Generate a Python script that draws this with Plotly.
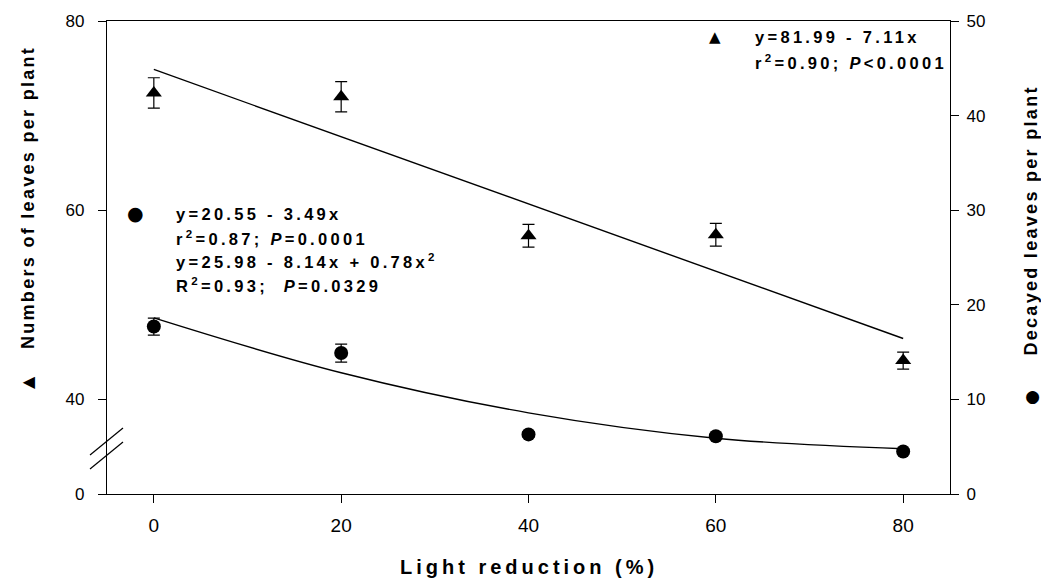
import plotly.graph_objects as go

# ---------------- data ----------------
light = [0, 20, 40, 60, 80]                      # Light reduction (%)
leaves_mean = [72.4, 72.0, 57.3, 57.4, 44.1]     # Numbers of leaves per plant (left axis)
leaves_err = [1.6, 1.6, 1.2, 1.2, 0.9]
decayed_mean = [17.7, 14.9, 6.3, 6.1, 4.5]       # Decayed leaves per plant (right axis)
decayed_err = [0.9, 0.95, 0.3, 0.3, 0.3]

leaves_fit_x = [0, 80]
leaves_fit = [74.88, 46.44]                      # linear fit line ends
decayed_fit = [18.62, 12.82, 8.58, 5.90, 4.78]   # quadratic fit at each level

left_tickvals = [30, 40, 60, 80]                 # broken axis: bottom tick shown as 0
left_ticktext = ["0", "40", "60", "80"]
right_ticks = [0, 10, 20, 30, 40, 50]
x_ticks = [0, 20, 40, 60, 80]

eq_tri = ["y=81.99 - 7.11x", "r<sup>2</sup>=0.90; <i>P</i>&lt;0.0001"]
eq_circ = ["y=20.55 - 3.49x", "r<sup>2</sup>=0.87; <i>P</i>=0.0001",
           "y=25.98 - 8.14x + 0.78x<sup>2</sup>", "R<sup>2</sup>=0.93;  <i>P</i>=0.0329"]

# ---------------- figure ----------------
W, H = 1041, 581
L, R, T, B = 107, 91, 21, 87
PW, PH = W - L - R, H - T - B


def px(xp):
    return (xp - L) / PW


def py(yp):
    return (H - B - yp) / PH


BLACK = "black"
fig = go.Figure()

fig.add_trace(go.Scatter(x=leaves_fit_x, y=leaves_fit, mode="lines",
                         line=dict(color=BLACK, width=1.4), yaxis="y", showlegend=False))
fig.add_trace(go.Scatter(x=light, y=decayed_fit, mode="lines",
                         line=dict(color=BLACK, width=1.4, shape="spline"),
                         yaxis="y2", showlegend=False))
fig.add_trace(go.Scatter(x=light, y=leaves_mean, mode="markers", yaxis="y",
                         marker=dict(symbol="triangle-up", size=14, color=BLACK),
                         error_y=dict(type="data", array=leaves_err, color=BLACK,
                                      thickness=1.2, width=6),
                         showlegend=False))
fig.add_trace(go.Scatter(x=light, y=decayed_mean, mode="markers", yaxis="y2",
                         marker=dict(symbol="circle", size=14, color=BLACK),
                         error_y=dict(type="data", array=decayed_err, color=BLACK,
                                      thickness=1.2, width=6),
                         showlegend=False))

tickfont = dict(family="Liberation Sans, Arial, sans-serif", size=17, color=BLACK)
fig.update_layout(
    width=W, height=H,
    margin=dict(l=L, r=R, t=T, b=B, pad=0),
    paper_bgcolor="white", plot_bgcolor="white",
    showlegend=False,
    xaxis=dict(range=[-5, 85], tickvals=x_ticks, ticks="outside", ticklen=8,
               tickwidth=1.2, tickcolor=BLACK, showline=True, linecolor=BLACK,
               linewidth=1.3, mirror=True, showgrid=False, zeroline=False,
               ticklabelstandoff=6,
               tickfont=dict(family="Liberation Sans Narrow, Arial Narrow, Liberation Sans",
                             size=19, color=BLACK)),
    yaxis=dict(range=[30, 80], tickvals=left_tickvals, ticktext=left_ticktext,
               ticks="outside", ticklen=8, tickwidth=1.2, tickcolor=BLACK,
               showline=True, linecolor=BLACK, linewidth=1.3, showgrid=False,
               zeroline=False, tickfont=tickfont, ticklabelstandoff=10),
    yaxis2=dict(range=[0, 50], tickvals=right_ticks, overlaying="y", side="right",
                ticks="outside", ticklen=8, tickwidth=1.2, tickcolor=BLACK,
                showline=True, linecolor=BLACK, linewidth=1.3, showgrid=False,
                zeroline=False, tickfont=tickfont, ticklabelstandoff=4),
)

bold = dict(family="Liberation Sans, Arial, sans-serif", color=BLACK, weight="bold")
ann = []
# 0 left title
ann.append(dict(text="Numbers of leaves per plant", x=px(28), y=py(198), textangle=-90,
                font=dict(bold, size=18), xanchor="center", yanchor="middle"))
# 1 left symbol
ann.append(dict(text="▲", x=px(27), y=py(383), textangle=-90,
                font=dict(family="DejaVu Sans", size=16, color=BLACK),
                xanchor="center", yanchor="middle"))
# 2 right title
ann.append(dict(text="Decayed leaves per plant", x=px(1031), y=py(221), textangle=-90,
                font=dict(bold, size=18), xanchor="center", yanchor="middle"))
# 3 right symbol
ann.append(dict(text="●", x=px(1031), y=py(398), textangle=-90,
                font=dict(family="DejaVu Sans", size=17, color=BLACK),
                xanchor="center", yanchor="middle"))
# 4 x title
ann.append(dict(text="Light reduction (%)", x=px(529), y=py(567),
                font=dict(bold, size=20), xanchor="center", yanchor="middle"))
# 5 triangle legend symbol
ann.append(dict(text="▲", x=px(715), y=py(37),
                font=dict(family="DejaVu Sans", size=15, color=BLACK),
                xanchor="center", yanchor="middle"))
# 6,7 triangle equation lines
for i, t in enumerate(eq_tri):
    ann.append(dict(text=t, x=px(753), y=py(37 + 25 * i), font=dict(bold, size=16.5),
                    xanchor="left", yanchor="middle"))
# 8 circle legend symbol
ann.append(dict(text="●", x=px(135), y=py(213),
                font=dict(family="DejaVu Sans", size=19, color=BLACK),
                xanchor="center", yanchor="middle"))
# 9-12 circle equation lines
for i, t in enumerate(eq_circ):
    ann.append(dict(text=t, x=px(174), y=py(214 + 23.7 * i), font=dict(bold, size=16.5),
                    xanchor="left", yanchor="middle"))

for a in ann:
    a.update(xref="paper", yref="paper", showarrow=False)
fig.update_layout(annotations=ann)

# axis break marks
for y0, y1 in [(455, 428), (469, 442)]:
    fig.add_shape(type="line", xref="paper", yref="paper",
                  x0=px(90), y0=py(y0), x1=px(123), y1=py(y1),
                  line=dict(color=BLACK, width=1.2))

spacing = [[0, 2.3, "center"], [2, 2.3, "center"], [4, 4.0, "center"],
           [6, 3.3, "left"], [7, 3.3, "left"], [9, 3.3, "left"], [10, 3.3, "left"],
           [11, 3.3, "left"], [12, 3.3, "left"]]
post = """
var gd = document.getElementById('{plot_id}');
var spec = SPEC;
spec.forEach(function(s){
  var g = gd.querySelector('g.annotation[data-index="' + s[0] + '"]');
  if (!g) return;
  var t = g.querySelector('text.annotation-text');
  if (!t) return;
  var b0 = t.getBBox();
  t.style.letterSpacing = s[1] + 'px';
  var b1 = t.getBBox();
  var dx = (s[2] == 'left') ? (b0.x - b1.x) : ((b0.x + b0.width / 2) - (b1.x + b1.width / 2));
  var tr = t.getAttribute('transform') || '';
  t.setAttribute('transform', tr + ' translate(' + dx + ',0)');
});
""".replace("SPEC", str(spacing).replace("'", '"'))

fig.write_html("out.html", post_script=post, config={"displayModeBar": False})
